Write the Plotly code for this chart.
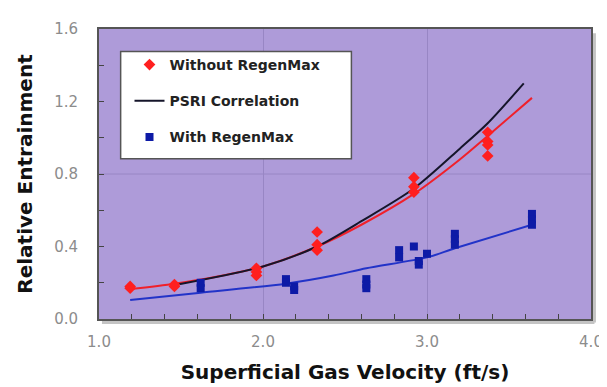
import plotly.graph_objects as go

# ---- data ----
without_x = [1.19, 1.19, 1.46, 1.46, 1.96, 1.96, 1.96, 2.33, 2.33, 2.33,
             2.92, 2.92, 2.92, 3.37, 3.37, 3.37, 3.37]
without_y = [0.18, 0.17, 0.19, 0.18, 0.28, 0.24, 0.26, 0.48, 0.41, 0.38,
             0.78, 0.73, 0.70, 1.03, 0.98, 0.96, 0.90]

with_x = [1.62, 1.62, 2.14, 2.14, 2.19, 2.19, 2.63, 2.63, 2.63, 2.83, 2.83,
          2.92, 2.95, 2.95, 3.00, 3.17, 3.17, 3.17, 3.64, 3.64, 3.64]
with_y = [0.20, 0.17, 0.22, 0.20, 0.18, 0.16, 0.22, 0.19, 0.17, 0.38, 0.34,
          0.40, 0.32, 0.30, 0.36, 0.47, 0.44, 0.41, 0.58, 0.55, 0.52]

red_fit_x = [1.19, 1.46, 1.70, 2.00, 2.33, 2.60, 2.92, 3.20, 3.37, 3.64]
red_fit_y = [0.165, 0.195, 0.23, 0.29, 0.40, 0.52, 0.69, 0.88, 1.01, 1.22]

psri_x = [1.48, 2.00, 2.33, 2.60, 2.92, 3.20, 3.37, 3.59]
psri_y = [0.19, 0.29, 0.40, 0.54, 0.72, 0.94, 1.08, 1.30]

blue_fit_x = [1.19, 1.62, 2.14, 2.43, 2.63, 3.00, 3.17, 3.64]
blue_fit_y = [0.105, 0.145, 0.195, 0.24, 0.28, 0.34, 0.39, 0.52]

x_ticks = [1.0, 2.0, 3.0, 4.0]
x_tick_labels = ["1.0", "2.0", "3.0", "4.0"]
y_ticks = [0.0, 0.4, 0.8, 1.2, 1.6]
y_tick_labels = ["0.0", "0.4", "0.8", "1.2", "1.6"]

RED = "#ff1f1f"
BLUE = "#0d1aa6"

fig = go.Figure()

fig.add_trace(go.Scatter(x=red_fit_x, y=red_fit_y, mode="lines",
                         line=dict(color="#f0202a", width=2, shape="spline", smoothing=0.8),
                         showlegend=False, hoverinfo="skip"))
fig.add_trace(go.Scatter(x=psri_x, y=psri_y, mode="lines", name="<b>PSRI Correlation</b>",
                         line=dict(color="#15152a", width=2, shape="spline", smoothing=0.8),
                         legendgroup="b", legendrank=2))
fig.add_trace(go.Scatter(x=blue_fit_x, y=blue_fit_y, mode="lines",
                         line=dict(color="#2233c8", width=2, shape="spline", smoothing=0.8),
                         showlegend=False, hoverinfo="skip"))
fig.add_trace(go.Scatter(x=without_x, y=without_y, mode="markers", name="<b>Without RegenMax</b>",
                         marker=dict(symbol="diamond", size=9, color=RED),
                         legendgroup="a", legendrank=1))
fig.add_trace(go.Scatter(x=with_x, y=with_y, mode="markers", name="<b>With RegenMax</b>",
                         marker=dict(symbol="square", size=8, color=BLUE),
                         legendgroup="c", legendrank=3))

tick_font = dict(family="DejaVu Sans", size=15, color="#8c8c8c")
title_font = dict(family="DejaVu Sans", size=20, color="#111111")

fig.update_layout(
    width=607, height=387,
    margin=dict(l=91, r=15, t=16, b=76),
    paper_bgcolor="white",
    plot_bgcolor="#ae9bd9",
    showlegend=True,
    legend=dict(x=0.062, y=0.931, xanchor="left", yanchor="top",
                bgcolor="rgba(0,0,0,0)", borderwidth=0,
                tracegroupgap=15,
                font=dict(family="DejaVu Sans", size=14, color="#222222"),
                itemwidth=30),
    shapes=[
        dict(type="line", xref="paper", yref="paper", x0=1.007, x1=1.007, y0=-0.012, y1=0.985,
             line=dict(color="#c4c4c4", width=3), layer="below"),
        dict(type="line", xref="paper", yref="paper", x0=0.006, x1=1.007, y0=-0.012, y1=-0.012,
             line=dict(color="#c4c4c4", width=3), layer="below"),
        dict(type="rect", xref="paper", yref="paper",
             x0=0.044, x1=0.513, y0=0.553, y1=0.922,
             fillcolor="white", line=dict(color="#555555", width=1.5), layer="above"),
        dict(type="line", xref="paper", yref="y", x0=0, x1=1, y0=0.8, y1=0.8,
             line=dict(color="#9886c4", width=1), layer="below"),
    ],
)

fig.update_xaxes(
    range=[1.0, 4.0], tickvals=x_ticks, ticktext=x_tick_labels,
    showgrid=True, gridcolor="#9886c4", gridwidth=1,
    ticks="inside", ticklen=5, tickcolor="#444444",
    minor=dict(dtick=0.2, ticks="inside", ticklen=5, tickcolor="#444444", showgrid=False),
    showline=True, linecolor="#555555", linewidth=2, mirror=True,
    tickfont=tick_font, ticklabelstandoff=8,
    title=dict(text="<b>Superficial Gas Velocity (ft/s)</b>", font=title_font, standoff=15),
    zeroline=False,
)
fig.update_yaxes(
    range=[0.0, 1.6], tickvals=y_ticks, ticktext=y_tick_labels,
    showgrid=False,
    ticks="inside", ticklen=5, tickcolor="#444444",
    minor=dict(dtick=0.2, ticks="inside", ticklen=5, tickcolor="#444444", showgrid=False),
    showline=True, linecolor="#555555", linewidth=2, mirror=True,
    tickfont=tick_font, ticklabelstandoff=16,
    title=dict(text="<b>Relative Entrainment</b>", font=title_font, standoff=16),
    zeroline=False,
)

fig.write_html("out.html")
